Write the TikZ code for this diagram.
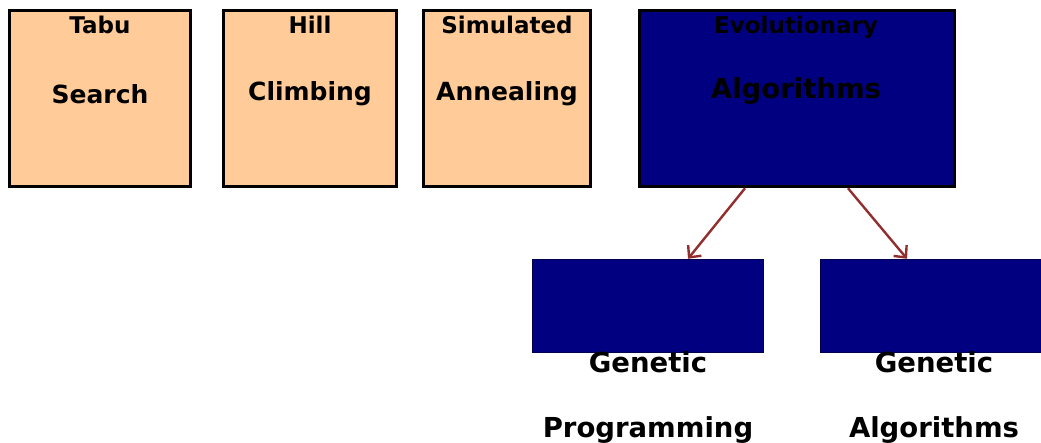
\documentclass[tikz,border=0pt]{standalone}
\usepackage{fontspec}
\setmainfont{DejaVu Sans}
\usetikzlibrary{calc,arrows.meta}

\definecolor{peach}{HTML}{FFCC99}
\definecolor{navyblue}{HTML}{000080}
\definecolor{linkred}{HTML}{922E2E}

\tikzset{
	local/.style={draw=black, line width=3.5pt, fill=peach, inner sep=0pt},
	evo/.style={draw=black, line width=3.5pt, fill=navyblue, inner sep=0pt},
	subevo/.style={draw=navyblue!60!black, line width=1.5pt, fill=navyblue, inner sep=0pt},
	word/.style={anchor=base, inner sep=0pt, font=\bfseries\fontsize{23}{26}\selectfont},
	bigword/.style={word, font=\bfseries\fontsize{25}{28}\selectfont},
	hugeword/.style={word, font=\bfseries\fontsize{27.5}{30}\selectfont},
	link/.style={draw=linkred, line width=2.4pt, -{Straight Barb[length=9pt,width=17pt]}}
}

\begin{document}
\begin{tikzpicture}[x=1pt, y=-1pt]
		%%%%% START %%%%%
		\useasboundingbox (0,0) rectangle (1041,442);
		\clip (0,0) rectangle (1041,442);
		
		% local search methods
		\node[local, minimum width=181, minimum height=176] (tabu) at (100,98.5) {};
		\node[local, minimum width=173, minimum height=176] (hill) at (310,98.5) {};
		\node[local, minimum width=167, minimum height=176] (anneal) at (507,98.5) {};
		
		\node[word] (tabu1) at (100,33) {Tabu};
		\node[bigword] (tabu2) at (100,103) {Search};
		\node[word] (hill1) at (310,33) {Hill};
		\node[bigword] (hill2) at (310,100) {Climbing};
		\node[word] (anneal1) at (507,33) {Simulated};
		\node[bigword] (anneal2) at (507,100) {Annealing};
		
		% evolutionary branch
		\node[evo, minimum width=315, minimum height=176] (ea) at (797,98.5) {};
		\node[word] (ea1) at (796,33) {Evolutionary};
		\node[hugeword] (ea2) at (796,98) {Algorithms};
		
		\node[subevo, minimum width=231, minimum height=93] (gp) at (648,306) {};
		\node[subevo, minimum width=227, minimum height=93] (ga) at (934,306) {};
		
		\node[hugeword] (gp1) at (648,372) {Genetic};
		\node[hugeword] (gp2) at (648,437) {Programming};
		\node[hugeword] (ga1) at (934,372) {Genetic};
		\node[hugeword] (ga2) at (934,437) {Algorithms};
		
		\draw[link] ([xshift=-52pt]ea.south) -- ([xshift=40pt]gp.north);
		\draw[link] ([xshift=51pt]ea.south) -- ([xshift=-27pt]ga.north);
		%%%%% END %%%%%
\end{tikzpicture}
\end{document}
